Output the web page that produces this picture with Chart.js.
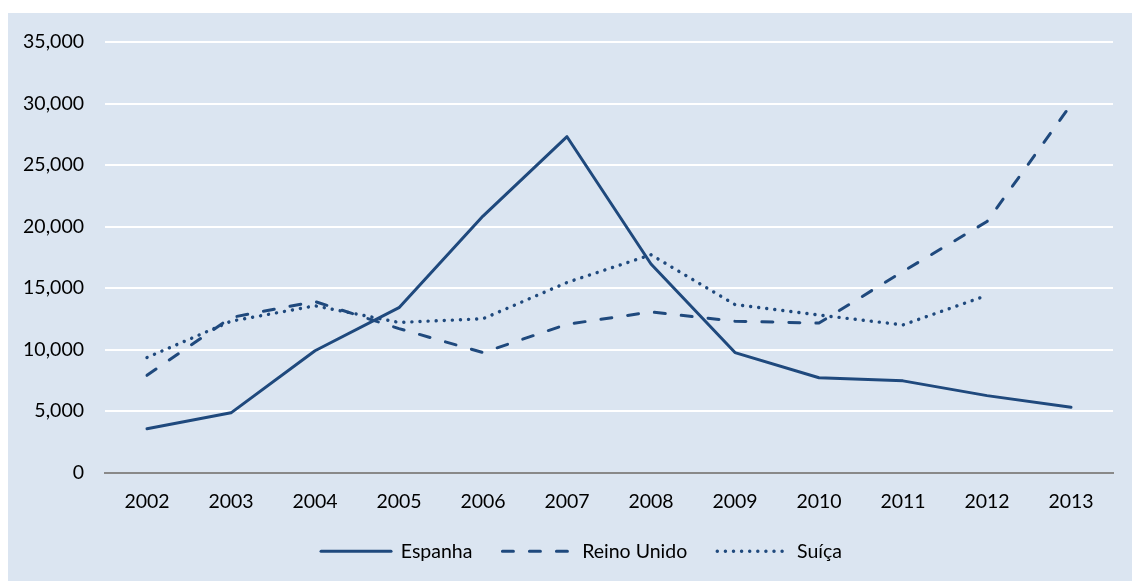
<!DOCTYPE html>
<html>
<head>
<meta charset="utf-8">
<script src="https://cdn.jsdelivr.net/npm/chart.js@4.4.0/dist/chart.umd.min.js"></script>
<style>
  html, body { margin: 0; padding: 0; background: #ffffff; }
  #painel {
    position: absolute;
    left: 8px;
    top: 13px;
    width: 1124px;
    height: 568px;
    background: #DBE5F1;
  }
</style>
</head>
<body>
<div id="painel"><canvas id="grafico" width="1124" height="568"></canvas></div>
<script>
const anos = ["2002", "2003", "2004", "2005", "2006", "2007", "2008", "2009", "2010", "2011", "2012", "2013"];

const espanha = [3550, 4850, 9900, 13400, 20850, 27300, 16950, 9750, 7700, 7450, 6250, 5300];
const reinoUnido = [7900, 12600, 13900, 11700, 9750, 12050, 13050, 12300, 12150, 16350, 20400, 29900];
const suica = [9350, 12300, 13550, 12200, 12500, 15450, 17700, 13650, 12800, 12000, 14400, null];

const ticksY = [0, 5000, 10000, 15000, 20000, 25000, 30000, 35000];

const azul = "#1F497D";
const fonte = { family: "Lato", size: 19.5 };

function serie(nome, valores, traco, largura) {
  return {
    label: nome,
    data: valores,
    borderColor: azul,
    backgroundColor: azul,
    borderWidth: largura,
    borderDash: traco,
    borderCapStyle: "round",
    borderJoinStyle: "round",
    pointRadius: 0,
    pointHoverRadius: 0,
    tension: 0,
    fill: false,
    spanGaps: false
  };
}

// a legenda com pointStyle nao copia o tracejado da serie, entao copiamos aqui
function gerarLegenda(chart) {
  const itens = Chart.defaults.plugins.legend.labels.generateLabels(chart);
  return itens.map(item => {
    const ds = chart.data.datasets[item.datasetIndex];
    item.lineDash = ds.borderDash;
    item.lineCap = "round";
    item.lineWidth = ds.borderWidth;
    item.strokeStyle = azul;
    return item;
  });
}

// empurra a legenda um pouco para a direita, como no original
const deslocaLegenda = {
  id: "deslocaLegenda",
  afterLayout(chart) {
    chart.legend.left += 42;
  }
};

new Chart(document.getElementById("grafico"), {
  type: "line",
  data: {
    labels: anos,
    datasets: [
      serie("Espanha", espanha, [], 3),
      serie("Reino Unido", reinoUnido, [11, 16], 3),
      serie("Suíça", suica, [0.1, 8], 3.4)
    ]
  },
  plugins: [deslocaLegenda],
  options: {
    responsive: false,
    animation: false,
    layout: {
      padding: { top: 29, right: 19, bottom: 10, left: 0 }
    },
    plugins: {
      tooltip: { enabled: false },
      legend: {
        position: "bottom",
        labels: {
          usePointStyle: true,
          pointStyle: "line",
          pointStyleWidth: 70,
          boxHeight: 18,
          padding: 30,
          color: "#000000",
          font: fonte,
          generateLabels: gerarLegenda
        }
      }
    },
    scales: {
      x: {
        offset: true,
        grid: { display: false, drawTicks: false, offset: true },
        border: { display: true, color: "#898989", width: 2 },
        ticks: { color: "#000000", font: fonte, padding: 18, maxRotation: 0 },
        afterFit: function (escala) {
          escala.height = 39;
        }
      },
      y: {
        min: 0,
        max: 35000,
        afterBuildTicks: function (escala) {
          escala.ticks = ticksY.map(v => ({ value: v }));
        },
        grid: {
          drawTicks: true,
          tickLength: 21,
          tickColor: "rgba(0,0,0,0)",
          lineWidth: 2,
          color: ctx => (ctx.tick && ctx.tick.value === 0) ? "#898989" : "#FFFFFF"
        },
        border: { display: false },
        ticks: {
          color: "#000000",
          font: fonte,
          padding: 0,
          callback: v => v.toLocaleString("en-US")
        },
        afterFit: function (escala) {
          escala.width = 97;
        }
      }
    }
  }
});
</script>
</body>
</html>
